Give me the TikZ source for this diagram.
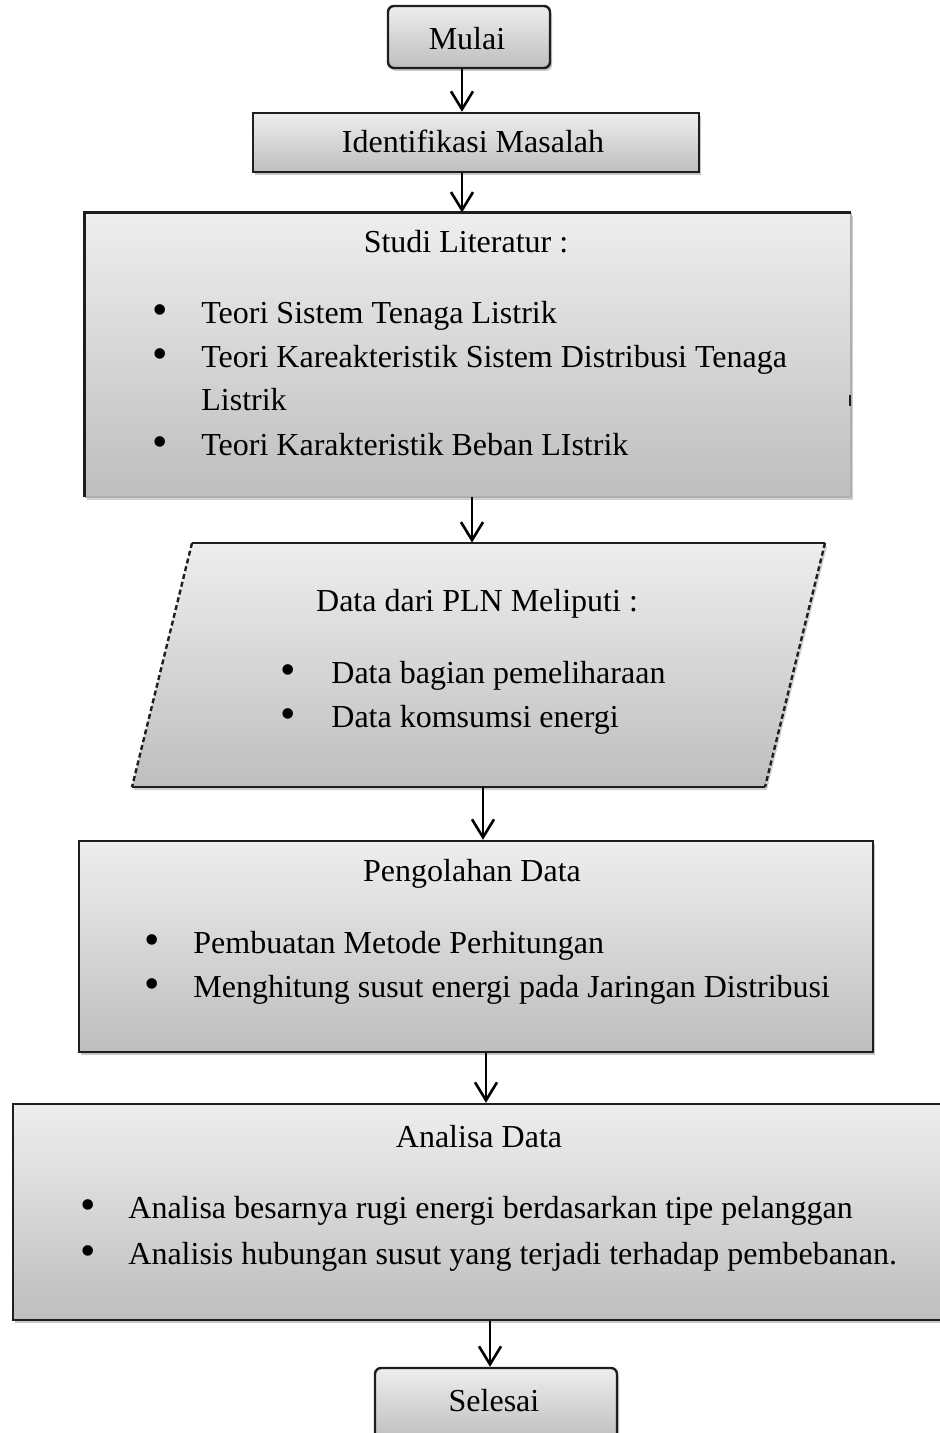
\documentclass[tikz,border=0pt]{standalone}
\usepackage{fontspec}
\setmainfont{Liberation Serif}
\usetikzlibrary{arrows.meta,shadows,calc}
\definecolor{topg}{RGB}{238,238,238}
\definecolor{botg}{RGB}{190,190,190}
\definecolor{bord}{RGB}{30,30,30}
\definecolor{shadc}{RGB}{175,175,175}
\tikzset{
  boxfill/.style={top color=topg, bottom color=botg},
  bordline/.style={draw=bord, line width=1.2pt},
  softline/.style={draw=shadc, line width=1pt},
  flowbox/.style={boxfill, bordline, inner sep=0pt, rectangle,
    drop shadow={shadow xshift=1pt, shadow yshift=-1.5pt, fill=shadc, opacity=0.7}},
  txt/.style={anchor=base, inner sep=0pt, font=\fontsize{16pt}{22pt}\selectfont},
  ltxt/.style={anchor=base west, inner sep=0pt, font=\fontsize{16pt}{22pt}\selectfont},
  bul/.style={anchor=center, inner sep=0pt, font=\fontsize{22pt}{22pt}\selectfont},
  arr/.style={draw=black, line width=1.3pt, -{Straight Barb[length=9pt,width=11pt]}},
}
\begin{document}
\begin{tikzpicture}[x=0.5pt,y=-0.5pt]
\useasboundingbox (0,0) rectangle (940,1433);
% arrow x positions
\coordinate (a1) at (462,0);
\coordinate (a3) at (472,0);
\coordinate (a4) at (483,0);
\coordinate (a5) at (486,0);
\coordinate (a6) at (490,0);

% Mulai
\node[flowbox, rounded corners=3pt, minimum width=81pt, minimum height=31pt] (mulai) at (469,37) {};
\node[txt] (tmulai) at (467,50) {Mulai};

% Identifikasi Masalah
\node[flowbox, minimum width=223pt, minimum height=29.5pt] (ident) at (476,142.5) {};
\node[txt] (tident) at (473,153) {Identifikasi Masalah};

% Studi Literatur
\node[boxfill, inner sep=0pt, rectangle, minimum width=383pt, minimum height=142pt,
  drop shadow={shadow xshift=1pt, shadow yshift=-1.5pt, fill=shadc, opacity=0.6}] (studi) at (468,355) {};
\draw[softline] (studi.north east) -- (studi.south east) -- (studi.south west);
\draw[bordline] (studi.south west) -- (studi.north west) -- (studi.north east);
\draw[bordline] (850,395) -- (850,406);
\node[txt] (tstudi) at (466,253) {Studi Literatur :};
\node[bul] (bs1) at (160,315) {•};
\node[ltxt] (s1) at (201,323) {Teori Sistem Tenaga Listrik};
\node[bul] (bs2) at (160,359) {•};
\node[ltxt] (s2) at (201,367) {Teori Kareakteristik Sistem Distribusi Tenaga};
\node[ltxt] (s3) at (201,410) {Listrik};
\node[bul] (bs4) at (160,447) {•};
\node[ltxt] (s4) at (201,455) {Teori Karakteristik Beban LIstrik};

% Data dari PLN (parallelogram)
\node[inner sep=0pt, minimum width=316.5pt, minimum height=122pt] (data) at (478.5,665) {};
\coordinate (dtl) at (192,543);
\coordinate (dtr) at (825,543);
\coordinate (dbr) at (765,787);
\coordinate (dbl) at (132,787);
\fill[shadc, opacity=0.6] ([shift={(2,3)}]dtl) -- ([shift={(2,3)}]dtr) -- ([shift={(2,3)}]dbr) -- ([shift={(2,3)}]dbl) -- cycle;
\shade[boxfill] (dtl) -- (dtr) -- (dbr) -- (dbl) -- cycle;
\draw[bordline] (dtl) -- (dtr);
\draw[bordline] (dbl) -- (dbr);
\draw[bordline, dash pattern=on 2.5pt off 1.5pt] (dtl) -- (dbl);
\draw[bordline, dash pattern=on 2.5pt off 1.5pt] (dtr) -- (dbr);
\node[txt] (tdata) at (477,611) {Data dari PLN Meliputi :};
\node[bul] (bd1) at (288,675) {•};
\node[ltxt] (d1) at (331,683) {Data bagian pemeliharaan};
\node[bul] (bd2) at (288,719) {•};
\node[ltxt] (d2) at (331,727) {Data komsumsi energi};

% Pengolahan Data
\node[flowbox, minimum width=397pt, minimum height=105.5pt] (peng) at (476,946.5) {};
\node[txt] (tpeng) at (472,881) {Pengolahan Data};
\node[bul] (bp1) at (152,945) {•};
\node[ltxt] (p1) at (193,953) {Pembuatan Metode Perhitungan};
\node[bul] (bp2) at (152,989) {•};
\node[ltxt] (p2) at (193,997) {Menghitung susut energi pada Jaringan Distribusi};

% Analisa Data
\node[flowbox, minimum width=464.5pt, minimum height=108pt] (anal) at (477.5,1212) {};
\node[txt] (tanal) at (479,1147) {Analisa Data};
\node[bul] (ba1) at (88,1210) {•};
\node[ltxt] (an1) at (128,1218) {Analisa besarnya rugi energi berdasarkan tipe pelanggan};
\node[bul] (ba2) at (88,1256) {•};
\node[ltxt] (an2) at (128,1264) {Analisis hubungan susut yang terjadi terhadap pembebanan.};

% Selesai
\node[flowbox, rounded corners=3pt, minimum width=121pt, minimum height=36pt] (sel) at (496,1404) {};
\node[txt] (tsel) at (494,1411) {Selesai};

% connectors
\draw[arr] (mulai.south -| a1) -- (ident.north -| a1);
\draw[arr] (ident.south -| a1) -- (studi.north -| a1);
\draw[arr] (studi.south -| a3) -- (data.north -| a3);
\draw[arr] (data.south -| a4) -- (peng.north -| a4);
\draw[arr] (peng.south -| a5) -- (anal.north -| a5);
\draw[arr] (anal.south -| a6) -- (sel.north -| a6);
\end{tikzpicture}
\end{document}
